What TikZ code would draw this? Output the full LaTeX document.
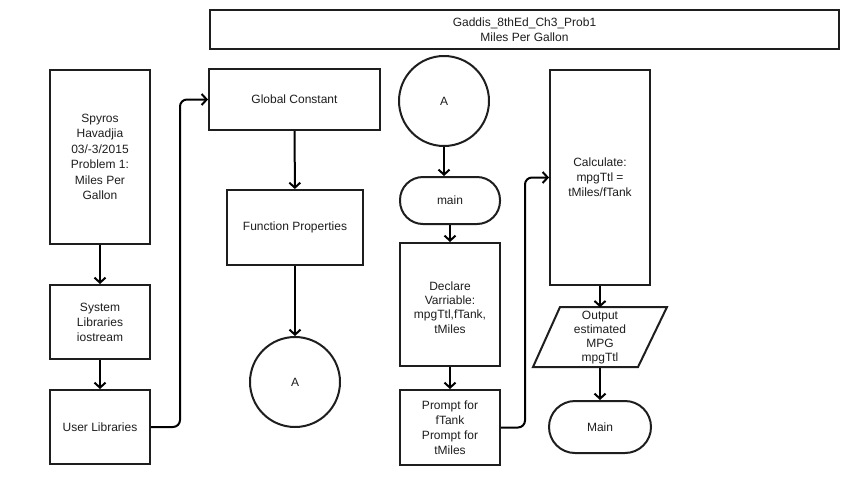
\documentclass[tikz,border=0pt]{standalone}
\usepackage{fontspec}
\setmainfont{Liberation Sans}
\usetikzlibrary{arrows.meta}
\definecolor{ink}{RGB}{30,30,30}
\begin{document}
\begin{tikzpicture}[x=1pt,y=-1pt,
  every node/.style={text=ink, font=\fontsize{12}{15.5}\selectfont, align=center},
  blk/.style={draw=ink, line width=2pt, inner sep=0pt},
  term/.style={blk, rounded corners=23pt},
  disc/.style={draw=ink, line width=2pt, circle, inner sep=0pt, minimum size=90pt},
  flow/.style={draw=black, line width=2pt, -{Straight Barb[length=5pt,width=11pt,line width=2pt]}},
  elbow/.style={flow, rounded corners=7pt}]
\useasboundingbox[fill=white] (0,0) rectangle (866,485);

% header
\node[blk, minimum width=629pt, minimum height=39pt, font=\fontsize{12}{15}\selectfont]
  (title) at (524.5,29.5) {Gaddis\_8thEd\_Ch3\_Prob1\\Miles Per Gallon};

% first column
\node[blk, minimum width=100pt, minimum height=174pt] (author) at (100,157)
  {Spyros\\Havadjia\\03/-3/2015\\Problem 1:\\Miles Per\\Gallon};
\node[blk, minimum width=100pt, minimum height=74pt, font=\fontsize{12}{15}\selectfont]
  (syslib) at (100,322) {System\\Libraries\\iostream};
\node[blk, minimum width=100pt, minimum height=74pt] (usrlib) at (100,427) {User Libraries};

% second column
\node[blk, minimum width=171pt, minimum height=61pt] (global) at (294.5,99.5) {Global Constant};
\node[blk, minimum width=136pt, minimum height=75pt] (funcs) at (295,227.5) {Function Properties};
\node[disc] (connA) at (295,382) {A};

% third column
\node[disc] (connB) at (444,101) {A};
\node[term, minimum width=100pt, minimum height=47pt] (mainstart) at (450,200.5) {main};
\node[blk, minimum width=100pt, minimum height=123pt] (declare) at (450,304.5) {};
\node[font=\fontsize{12}{14.2}\selectfont] (declaretext) at (450,307.5)
  {Declare\\Varriable:\\mpgTtl,fTank,\\tMiles};
\node[blk, minimum width=100pt, minimum height=75pt, font=\fontsize{12}{15}\selectfont]
  (prompt) at (450,427.5) {Prompt for\\fTank\\Prompt for\\tMiles};

% fourth column
\node[blk, minimum width=100pt, minimum height=215pt, font=\fontsize{12}{15}\selectfont]
  (calc) at (600,177.5) {Calculate:\\mpgTtl =\\tMiles/fTank};
\draw[ink, line width=2pt, line join=miter] (560,307) -- (667,307) -- (638,367) -- (533,367) -- cycle;
\node[inner sep=0pt, minimum width=80pt, minimum height=60pt, font=\fontsize{12}{14.3}\selectfont]
  (output) at (600,337.5) {Output\\estimated\\MPG\\mpgTtl};
\node[term, minimum width=102pt, minimum height=52pt, rounded corners=26pt] (mainend) at (600,427) {Main};

% connectors
\draw[flow] (author) -- (syslib);
\draw[flow] (syslib) -- (usrlib);
\draw[elbow] (usrlib.east) -- (180,427) -- (180,99.5) -- (global.west);
\draw[flow] (global) -- (funcs);
\draw[flow] (funcs) -- (connA);
\draw[flow] (connB) -- (connB |- mainstart.north);
\draw[flow] (mainstart) -- (declare);
\draw[flow] (declare) -- (prompt);
\draw[elbow] (prompt.east) -- (525,427.5) -- (525,177.5) -- (calc.west);
\draw[flow] (calc) -- (output);
\draw[flow] (output) -- (mainend);
\end{tikzpicture}
\end{document}
